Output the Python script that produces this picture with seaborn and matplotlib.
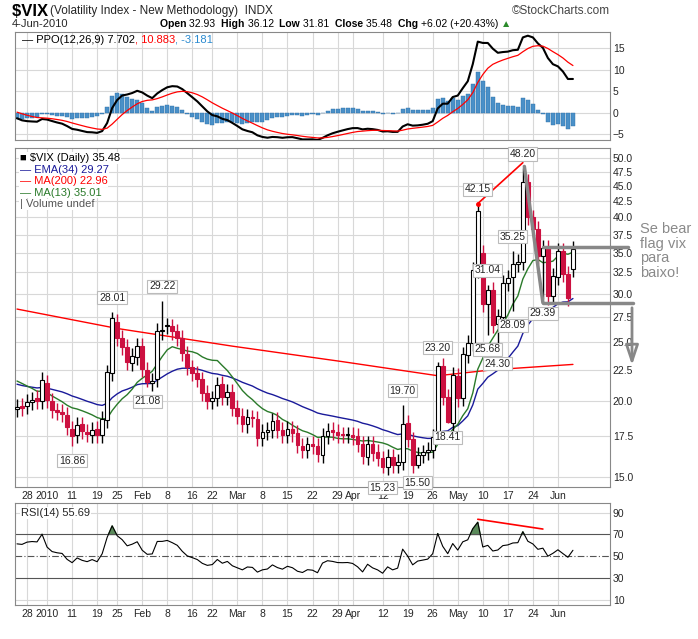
import numpy as np
import pandas as pd
import matplotlib
matplotlib.use("Agg")
import matplotlib.pyplot as plt
import seaborn as sns

# ---------------- data ----------------
warmup_closes = [21.25, 22.0, 22.6, 22.5, 23.0, 21.6, 21.5, 22.7, 22.0, 21.9, 21.6, 20.0, 19.38]
closes = [19.54, 19.47, 19.93, 20.05, 20.01, 21.68,
          20.04, 19.35, 19.16, 19.06, 18.13, 17.55, 18.25, 17.85, 17.63, 17.91, 17.58, 18.68, 22.27, 27.31, 25.41, 24.55, 23.14, 23.73, 24.62,
          22.59, 21.48, 21.60, 26.08, 26.11, 26.51, 26.00, 25.40, 23.96, 22.73, 22.25, 21.72, 20.63, 20.02, 20.19, 21.28, 20.29, 20.67, 19.50,
          18.91, 18.32, 18.83, 18.72, 17.42, 17.79, 17.92, 18.57, 17.95, 17.58, 18.00, 17.69, 16.91, 16.62, 16.97, 16.87, 16.35, 17.55, 17.88, 17.77, 17.59, 17.57, 17.59,
          17.47, 17.02, 16.25, 17.00, 16.46, 16.14, 15.58, 16.20, 15.72, 15.89, 18.36, 17.34, 15.73, 16.32, 16.47, 16.62, 17.47, 22.81, 20.28, 18.44, 22.05,
          20.19, 23.84, 24.91, 32.80, 40.95, 28.84, 30.36, 26.68, 27.52, 31.24, 31.87, 33.55, 33.82, 45.79, 40.10, 38.32, 34.61, 35.66, 29.68, 32.07,
          35.20, 32.36, 29.46, 35.48]
opens = [19.4, 19.6, 19.6, 19.9, 20.2, 20.0,
         21.4, 20.0, 19.3, 19.2, 19.0, 18.0, 17.6, 18.3, 17.8, 17.6, 18.0, 17.6, 18.6, 22.2, 27.0, 25.4, 24.5, 23.1, 23.6,
         24.6, 22.5, 21.4, 21.7, 26.0, 26.6, 26.5, 26.0, 25.4, 23.9, 22.7, 22.2, 21.7, 20.6, 20.0, 20.2, 21.3, 20.3, 20.7,
         19.5, 18.9, 18.3, 18.8, 18.7, 17.4, 17.8, 17.9, 18.6, 17.9, 17.6, 18.0, 17.7, 16.9, 16.6, 17.0, 16.9, 16.3, 17.5, 17.9, 17.8, 17.6, 17.6,
         17.6, 17.5, 17.0, 16.2, 17.0, 16.5, 16.1, 15.6, 16.2, 15.7, 15.9, 18.4, 17.3, 15.7, 16.3, 16.5, 16.6, 17.5, 22.8, 20.3, 18.4,
         22.0, 20.2, 23.8, 24.9, 32.8, 35.0, 28.8, 30.4, 26.7, 27.5, 31.2, 31.9, 33.6, 33.8, 45.8, 40.0, 38.3, 34.6, 35.6, 29.7,
         32.0, 35.2, 32.3, 32.9]
high_labels = {19: 28.01, 29: 29.22, 77: 19.70, 84: 23.20, 92: 42.15, 94: 31.04, 99: 35.25, 101: 48.20}
low_labels = {11: 16.86, 26: 21.08, 73: 15.23, 80: 15.50, 86: 18.41, 94: 25.68, 96: 24.30, 99: 28.09, 105: 29.39}
ma200_idx = [0, 20, 43, 65, 84, 95, 111]
ma200_val = [28.3, 26.3, 24.6, 23.2, 22.0, 22.5, 22.96]
tick_idx = [2, 6, 11, 16, 20, 25, 30, 35, 39, 44, 49, 54, 59, 64, 67, 73, 78, 83, 88, 93, 98, 103, 108]
tick_lab = ["28", "2010", "11", "19", "25", "Feb", "8", "16", "22", "Mar", "8", "15", "22", "29", "Apr",
            "12", "19", "26", "May", "10", "17", "24", "Jun"]

# ---------------- indicators ----------------
allc = pd.Series(warmup_closes + closes)
nw = len(warmup_closes)
ema34 = allc.ewm(span=34, adjust=False).mean().values[nw:]
ma13 = allc.rolling(13, min_periods=1).mean().values[nw:]
e12 = allc.ewm(span=12, adjust=False).mean()
e26 = allc.ewm(span=26, adjust=False).mean()
ppo = (e12 - e26) / e26 * 100
sig = ppo.ewm(span=9, adjust=False).mean()
hist = (ppo - sig).values[nw:]
ppo = ppo.values[nw:]; sig = sig.values[nw:]
d = allc.diff()
up = d.clip(lower=0).ewm(alpha=1/14, adjust=False).mean()
dn = (-d.clip(upper=0)).ewm(alpha=1/14, adjust=False).mean()
rsi = (100 - 100 / (1 + up / dn)).values[nw:]

n = len(closes)
x = np.arange(n)
highs = [max(o, c) * 1.03 for o, c in zip(opens, closes)]
lows = [min(o, c) * 0.97 for o, c in zip(opens, closes)]
for k, v in high_labels.items(): highs[k] = v
for k, v in low_labels.items(): lows[k] = v

# ---------------- figure ----------------
sns.set_theme(style="white", rc={"font.family": "Liberation Sans"})
fig = plt.figure(figsize=(6.98, 6.39), dpi=100)
L, W = 15/698, 595/698
ax1 = fig.add_axes([L, 1-140/639, W, 108/639])
ax2 = fig.add_axes([L, 1-487/639, W, 339/639])
ax3 = fig.add_axes([L, 1-605/639, W, 102/639])
xl = (-0.4, 118.4)
gridc = "#d8d8d8"
for ax in (ax1, ax2, ax3):
    ax.set_xlim(*xl)
    for s in ax.spines.values():
        s.set_color("#888888"); s.set_linewidth(0.8)
    for t in tick_idx:
        ax.axvline(t, color=gridc, lw=0.8, zorder=0)
    ax.yaxis.tick_right()
    ax.tick_params(axis="y", labelsize=7.5, length=0, pad=2)
    ax.set_xticks([])

# PPO panel
ax1.bar(x, hist, width=0.8, color="#4a90c8", edgecolor="#2d6fa8", lw=0.3, zorder=2)
sns.lineplot(x=x, y=ppo, ax=ax1, color="black", lw=1.5, zorder=3)
sns.lineplot(x=x, y=sig, ax=ax1, color="red", lw=0.9, zorder=3)
ax1.set_ylim(-6.4, 18.8)
ax1.set_yticks([-5, 0, 5, 10, 15])
for v in [-5, 0, 5, 10, 15]:
    ax1.axhline(v, color=gridc, lw=0.8, zorder=0)

def chain(x0, y0, parts, **kw):
    fig.canvas.draw()
    r = fig.canvas.get_renderer()
    xx = x0
    for t, c, b in parts:
        tt = fig.text(xx/698, 1-y0/639, t, color=c, fontweight="bold" if b else "normal",
                      va="center", **kw)
        xx += tt.get_window_extent(renderer=r).width

chain(22, 40, [("\u2014 PPO(12,26,9) 7.702", "black", False), (", 10.883", "red", False),
               (", -3.181", "#2a8ad0", False)], fontsize=8)

# main panel
ax2.set_yscale("log")
ax2.set_ylim(14.45, 52.0)
pt = [15.0, 17.5, 20.0, 22.5, 25.0, 27.5, 30.0, 32.5, 35.0, 37.5, 40.0, 42.5, 45.0, 47.5, 50.0]
ax2.set_yticks(pt)
ax2.set_yticklabels([f"{v:.1f}" for v in pt])
ax2.yaxis.set_minor_locator(matplotlib.ticker.NullLocator())
for v in pt:
    ax2.axhline(v, color=gridc, lw=0.8, zorder=0)
sns.lineplot(x=ma200_idx, y=ma200_val, ax=ax2, color="red", lw=1.0, zorder=2)
sns.lineplot(x=x, y=ema34, ax=ax2, color="#1a1a9a", lw=1.0, zorder=2)
sns.lineplot(x=x, y=ma13, ax=ax2, color="#2a7a2a", lw=1.0, zorder=2)
prev = [warmup_closes[-1]] + closes[:-1]
for i in range(n):
    o, c, h, l = opens[i], closes[i], highs[i], lows[i]
    col = "#cc1040" if c < prev[i] else "black"
    ax2.vlines(i, l, h, color=col, lw=1.0, zorder=3)
    lo, hi = min(o, c), max(o, c)
    if hi - lo < 0.08:
        hi = lo * 1.004
    fc = "white" if c > o else col
    ax2.bar(i, hi - lo, bottom=lo, width=0.75, color=fc, edgecolor=col, lw=0.8, zorder=4)
bb = dict(boxstyle="square,pad=0.15", fc="white", ec="#bbbbbb", lw=0.8)
for k, v in high_labels.items():
    ax2.text(k, v * 1.035, f"{v:.2f}", fontsize=7.5, ha="center", va="bottom", bbox=bb, zorder=6)
for k, v in low_labels.items():
    ax2.text(k, v * 0.965, f"{v:.2f}", fontsize=7.5, ha="center", va="top", bbox=bb, zorder=6)
ax2.plot([92, 101], [42.15, 49.2], color="red", lw=1.2, zorder=5)
ax2.plot([92], [42.15], "o", color="red", ms=2.5, zorder=5)
g = "#888888"
ax2.plot([101.3, 105], [48.5, 29.0], color=g, lw=2.5, zorder=5)
ax2.plot([105, 123], [29.0, 29.0], color=g, lw=2.5, zorder=5, clip_on=False)
ax2.plot([105, 122], [35.8, 35.8], color=g, lw=2.5, zorder=5, clip_on=False)
leg = [("\u25a0 $VIX (Daily) 35.48", "black"), ("\u2014 EMA(34) 29.27", "#1a1a9a"),
       ("\u2014 MA(200) 22.96", "red"), ("\u2014 MA(13) 35.01", "#2a7a2a"), ("| Volume undef", "#555555")]
for j, (t, c) in enumerate(leg):
    ax2.text(0.008, 0.985 - j * 0.034, t, transform=ax2.transAxes, fontsize=8, va="top", color=c,
             bbox=dict(fc="white", ec="none", pad=0.5), zorder=7)
ax2.set_xticks(tick_idx)
ax2.set_xticklabels(tick_lab, fontsize=7.5)
ax2.tick_params(axis="x", length=0, pad=3)

# RSI panel
sns.lineplot(x=x, y=rsi, ax=ax3, color="black", lw=0.8, zorder=3)
ax3.fill_between(x, rsi, 70, where=rsi > 70, color="#5a8a5a", interpolate=True, zorder=2)
ax3.set_ylim(5, 99)
ax3.set_yticks([10, 30, 50, 70, 90])
for v in [10, 90]:
    ax3.axhline(v, color=gridc, lw=0.8, zorder=0)
ax3.axhline(30, color="#555555", lw=0.8)
ax3.axhline(70, color="#555555", lw=0.8)
ax3.axhline(50, color="#555555", lw=0.8, ls=(0, (6, 2, 1, 2)))
ax3.plot([92, 105], [84, 75], color="red", lw=1.2, zorder=5)
ax3.text(0.01, 0.95, "RSI(14) 55.69", transform=ax3.transAxes, fontsize=8, va="top",
         bbox=dict(fc="white", ec="none", pad=1))
ax3.set_xticks(tick_idx)
ax3.set_xticklabels(tick_lab, fontsize=7.5)
ax3.tick_params(axis="x", length=0, pad=3)

# header
chain(12, 11, [("$VIX ", "black", True)], fontsize=12)
fig.text(50/698, 1-11/639, "(Volatility Index - New Methodology)  INDX", fontsize=8.5, va="center")
fig.text(610/698, 1-11/639, "\u00a9StockCharts.com", fontsize=8.5, va="center", ha="right", color="#444444")
fig.text(12/698, 1-24/639, "4-Jun-2010", fontsize=8, va="center")
chain(160, 24, [("Open ", "black", True), ("32.93  ", "black", False), ("High ", "black", True),
                ("36.12  ", "black", False), ("Low ", "black", True), ("31.81  ", "black", False),
                ("Close ", "black", True), ("35.48  ", "black", False), ("Chg ", "black", True),
                ("+6.02 (+20.43%) ", "black", False), ("\u25b2", "#2a8a2a", False)], fontsize=7.5)

# annotation on right
fig.text(640/698, 1-222/639, "Se bear\nflag vix\npara\nbaixo!", fontsize=10.5, color="#8a8a8a",
         va="top", linespacing=1.05)
fig.add_artist(matplotlib.patches.FancyArrowPatch((632/698, 1-305/639), (632/698, 1-368/639),
               transform=fig.transFigure, arrowstyle="-|>,head_width=4,head_length=12",
               color="#888888", lw=2, fill=False))

fig.savefig("out.png", dpi=100, facecolor="white")
